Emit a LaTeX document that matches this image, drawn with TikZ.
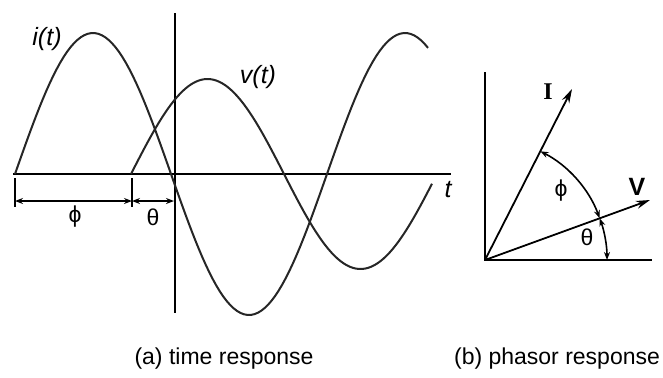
\documentclass[tikz,border=0pt]{standalone}
\usepackage{fontspec}
\setmainfont{Liberation Serif}
\setsansfont{Liberation Sans}
\usetikzlibrary{arrows.meta}

\tikzset{
  wave/.style={black!85, line width=1pt},
  axis/.style={black, line width=1pt},
  vec/.style={black, line width=0.9pt, -{Stealth[length=7pt, width=4pt]}},
  dim/.style={black, line width=0.8pt, {Stealth[length=4pt, width=3pt]}-{Stealth[length=4pt, width=3pt]}},
  lbl/.style={font=\sffamily\fontsize{11.5}{14}\selectfont},
  fn/.style={font=\sffamily\itshape\fontsize{12.5}{15}\selectfont},
}

\begin{document}
\begin{tikzpicture}[x=0.5pt, y=0.5pt]
    % 画布范围 (像素坐标, y 向上)
    \useasboundingbox (0,0) rectangle (663,377);

    % 1. 时间响应: 坐标轴
    \draw[axis] (13,203) -- (451,203);
    \draw[axis] (175,364) -- (175,64);
    \node[fn] (tlab) at (448,187) {t};

    % 电流 i(t) 与电压 v(t)
    \draw[wave] plot[domain=15:428, samples=120] (\x, {203 + 141*sin((\x-15)/156*180)});
    \draw[wave] plot[domain=131:432, samples=100] (\x, {203 + 95*sin((\x-131)/153*180)});
    \node[fn] (ilab) at (47,338) {i(t)};
    \node[fn] (vlab) at (258,300) {v(t)};

    % 相位差标注
    \coordinate (p0) at (15,176);
    \coordinate (p1) at (132,176);
    \coordinate (p2) at (174,176);
    \draw[axis, line width=0.8pt] (15,199) -- (15,170);
    \draw[axis, line width=0.8pt] (132,199) -- (132,170);
    \draw[dim] (p0) -- (p1);
    \draw[dim] (p1) -- (p2);
    \node[lbl] (phia) at (75,160) {ϕ};
    \node[lbl] (tha) at (153,160) {θ};

    % 2. 相量图
    \coordinate (O) at (485,117);
    \draw[axis] (485,305) -- (O) -- (652,117);
    \coordinate (Itip) at (572,288);
    \coordinate (Vtip) at (650,177);
    \draw[vec] (O) -- (Itip);
    \draw[vec] (O) -- (Vtip);
    \node[font=\bfseries\fontsize{12}{14}\selectfont] (Ilab) at (548,285) {I};
    \node[font=\sffamily\bfseries\fontsize{12.5}{15}\selectfont] (Vlab) at (637,190) {V};

    % 角度弧
    \draw[dim] ([shift={(63:122)}]O) arc[start angle=63, end angle=20, radius=122];
    \draw[dim] ([shift={(20:122)}]O) arc[start angle=20, end angle=0, radius=122];
    \node[lbl] (phib) at (561,186) {ϕ};
    \node[lbl] (thb) at (587,140) {θ};

    % 3. 图题
    \node[lbl] (capa) at (224,18) {(a) time response};
    \node[lbl] (capb) at (557,18) {(b) phasor response};
\end{tikzpicture}
\end{document}
